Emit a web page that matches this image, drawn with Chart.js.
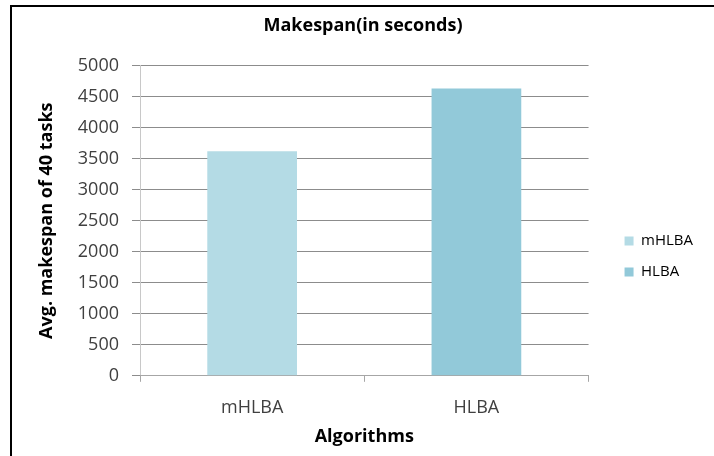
<!DOCTYPE html>
<html>
<head>
<meta charset="utf-8">
<script src="https://cdn.jsdelivr.net/npm/chart.js@4"></script>
<style>
  html, body { margin: 0; padding: 0; background: #fff; }
  #frame {
    position: absolute; left: 10px; top: 5px;
    width: 702px; height: 449px;
    border-left: 2px solid #000; border-top: 2px solid #000;
  }
  #frame canvas { display: block; }
</style>
</head>
<body>
<div id="frame"><canvas id="chart" width="702" height="449"></canvas></div>
<script>
// ==========
// Data
// ==========
const algorithms = ["mHLBA", "HLBA"];
const makespans = [3620, 4630];
const barColors = ["#b4dbe5", "#92c9d9"];
const yTicks = [0, 500, 1000, 1500, 2000, 2500, 3000, 3500, 4000, 4500, 5000];

const FONT = "'Open Sans', 'DejaVu Sans', sans-serif";

// Legend box tweaks: gap before the items, blank space after them,
// and a nudge down for the whole block
const LEGEND_GAP = 20;
const LEGEND_TAIL = 11;
const LEGEND_DROP = 27;

const legendSpacing = {
    id: "legendSpacing",
    beforeLayout(chart) {
        const lg = chart.legend;
        if (!lg || lg._spaced) return;
        const fit = lg.fit, draw = lg.draw;
        lg.fit = function () { fit.call(this); this.width += LEGEND_GAP + LEGEND_TAIL; };
        lg.draw = function () {
            const l = this.left, t = this.top, b = this.bottom;
            this.left += LEGEND_GAP;
            this.top += LEGEND_DROP;
            this.bottom += LEGEND_DROP;
            draw.call(this);
            this.left = l;
            this.top = t;
            this.bottom = b;
        };
        lg._spaced = true;
    }
};

new Chart(document.getElementById("chart"), {
    type: "bar",
    data: {
        labels: algorithms,
        datasets: [{
            data: makespans,
            backgroundColor: barColors,
            borderWidth: 0,
            categoryPercentage: 0.8,
            barPercentage: 0.5
        }]
    },
    plugins: [legendSpacing],
    options: {
        responsive: false,
        animation: false,
        layout: { padding: { top: 4, right: 0, bottom: 8, left: 0 } },
        plugins: {
            title: {
                display: true,
                text: "Makespan(in seconds)",
                color: "#000",
                font: { family: FONT, size: 18, weight: "bold" },
                padding: { top: 4, bottom: 29 }
            },
            // one legend entry per bar, like a varied-colour single series
            legend: {
                position: "right",
                labels: {
                    color: "#404040",
                    font: { family: FONT, size: 15 },
                    boxWidth: 9,
                    boxHeight: 9,
                    padding: 16,
                    generateLabels: chart => chart.data.labels.map((l, i) => ({
                        text: l,
                        fillStyle: barColors[i],
                        strokeStyle: barColors[i],
                        lineWidth: 0,
                        index: i
                    }))
                },
                onClick: () => {}
            },
            tooltip: { enabled: false }
        },
        scales: {
            y: {
                min: 0, max: 5000,
                afterBuildTicks: axis => { axis.ticks = yTicks.map(v => ({ value: v })); },
                afterFit: axis => { axis.width = 128; },
                ticks: {
                    color: "#404040",
                    font: { family: FONT, size: 18 },
                    padding: 13,
                    callback: v => String(v)
                },
                grid: { color: "#8c8c8c", tickLength: 8, drawTicks: true },
                border: { color: "#c8c8c8" },
                title: {
                    display: true,
                    text: "Avg. makespan of 40 tasks",
                    color: "#000",
                    font: { family: FONT, size: 18, weight: "bold" },
                    padding: { top: 24, bottom: 0 }
                }
            },
            x: {
                ticks: {
                    color: "#404040",
                    font: { family: FONT, size: 18 },
                    padding: 15
                },
                grid: { drawOnChartArea: false, tickLength: 6, color: "#a6a6a6", offset: true },
                border: { color: "#a6a6a6" },
                title: {
                    display: true,
                    text: "Algorithms",
                    color: "#000",
                    font: { family: FONT, size: 18, weight: "bold" },
                    padding: { top: -7, bottom: 0 }
                }
            }
        }
    }
});
</script>
</body>
</html>
